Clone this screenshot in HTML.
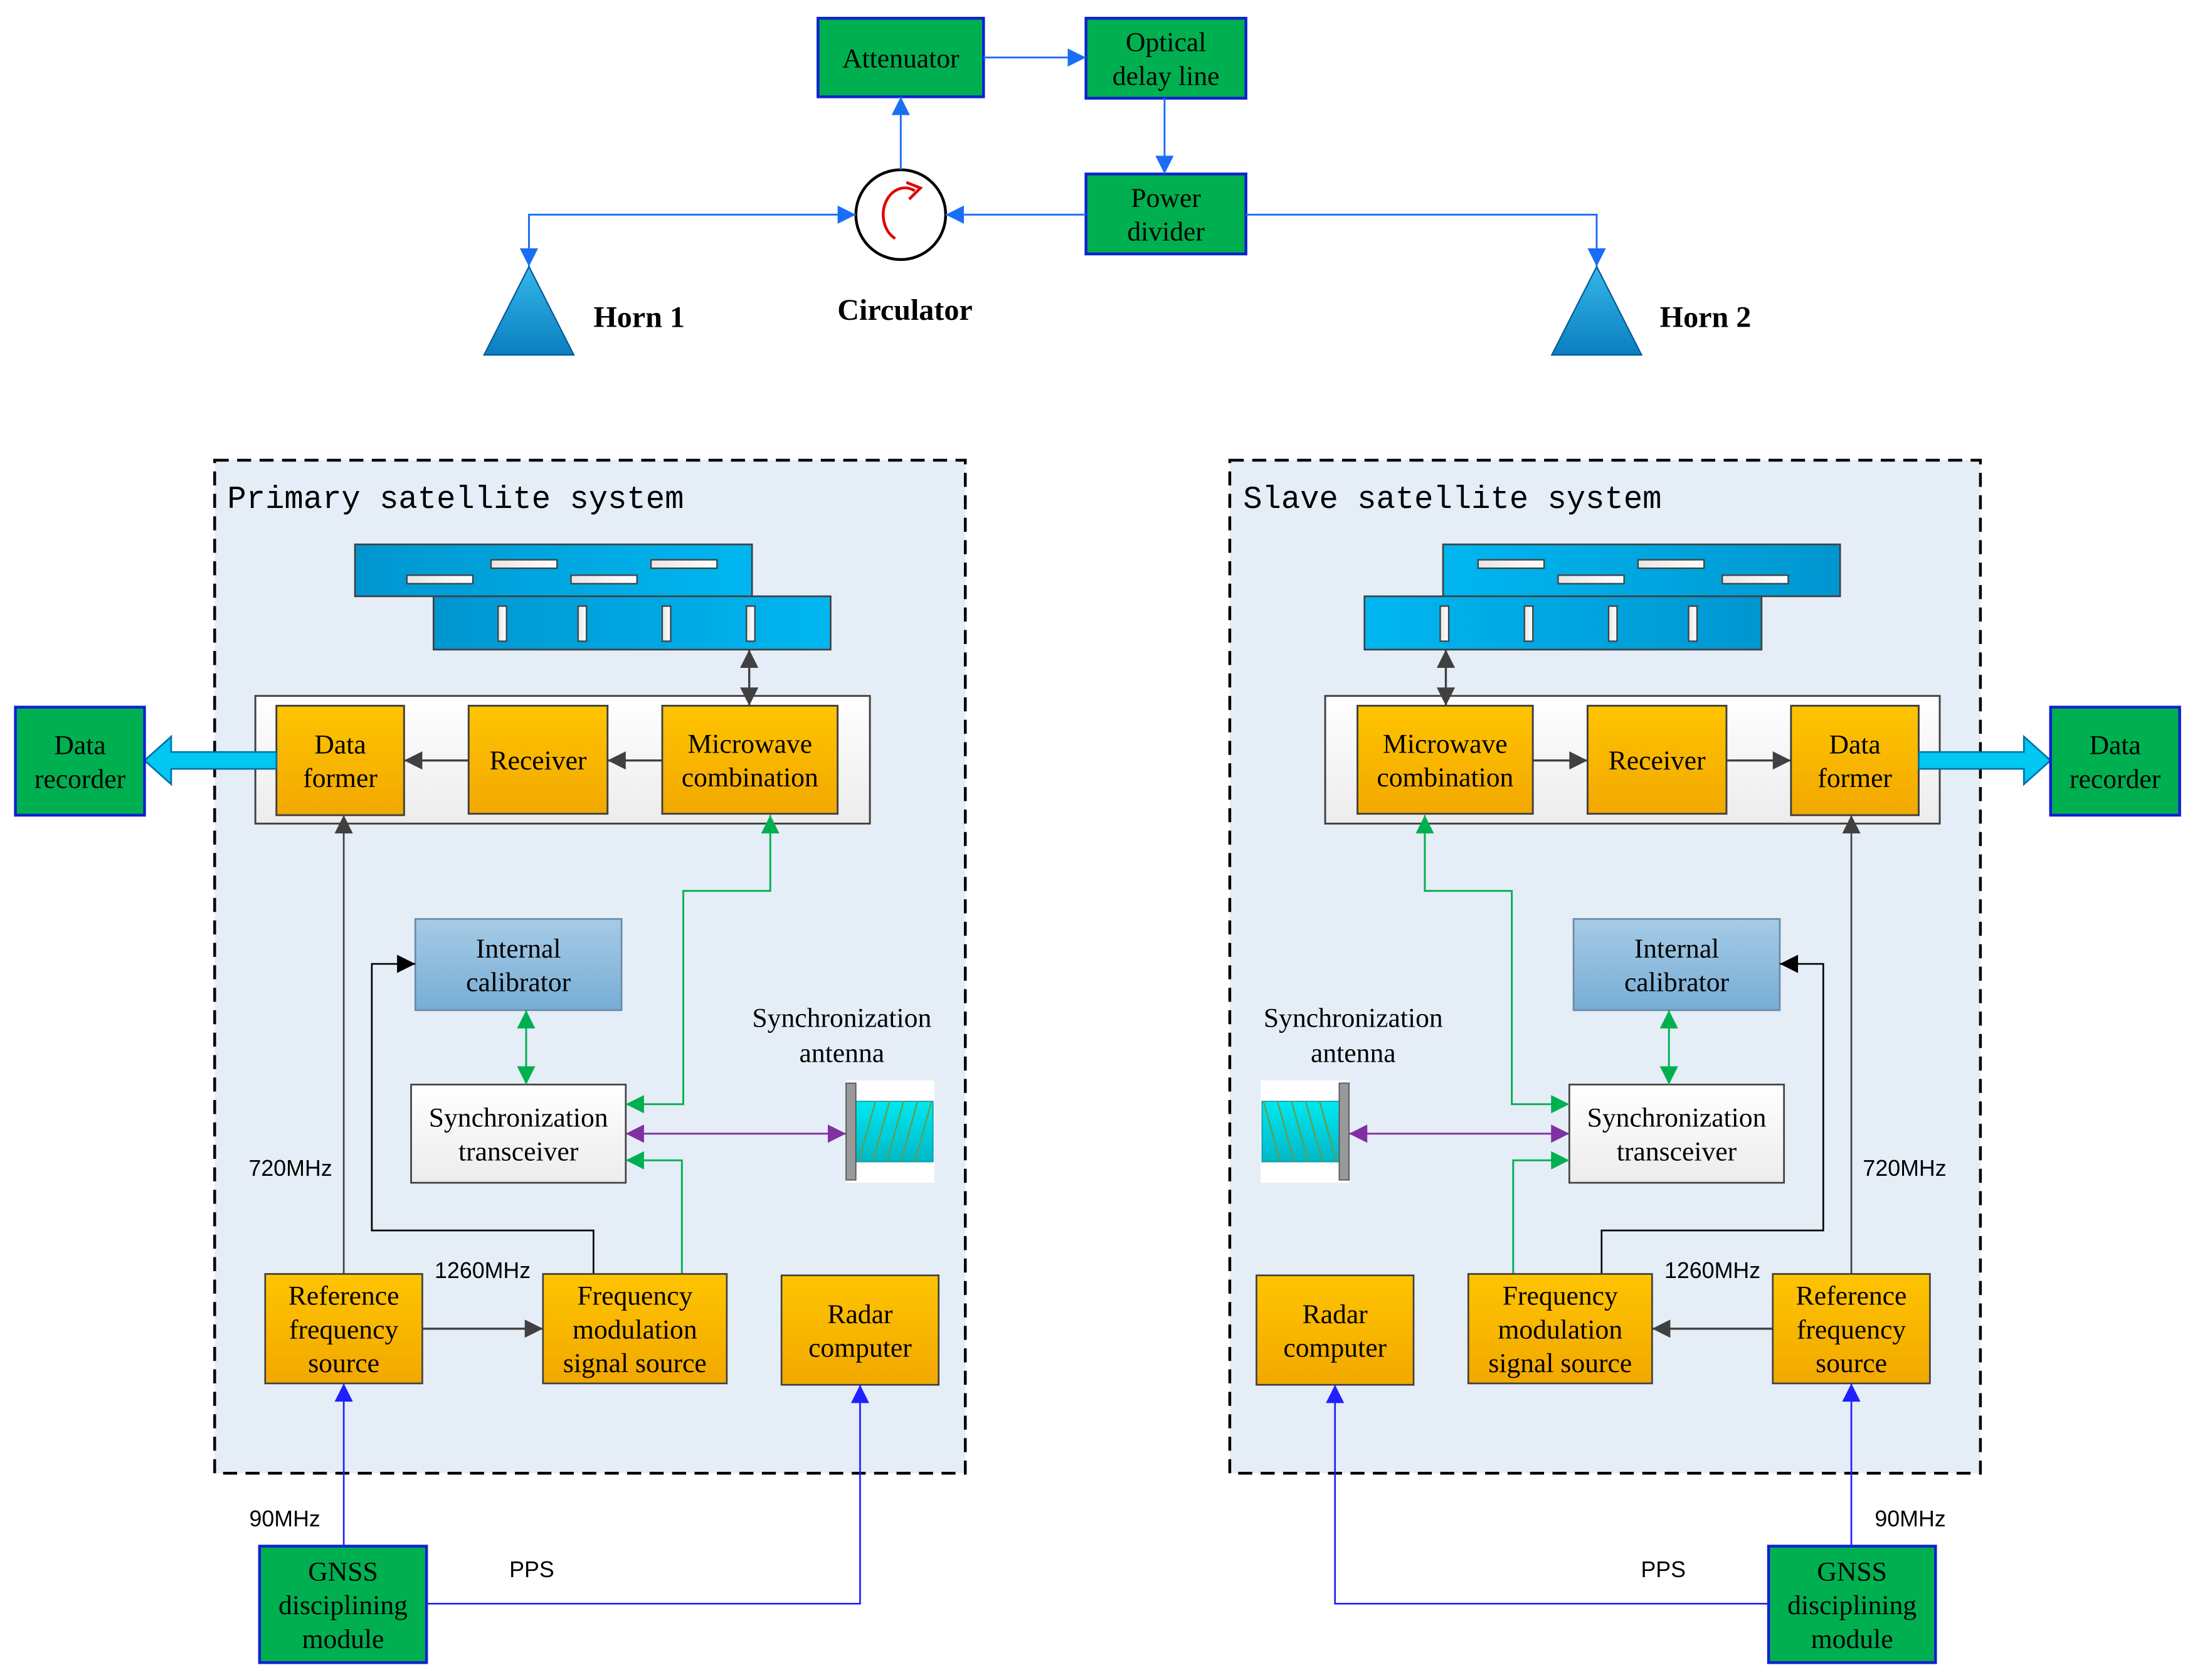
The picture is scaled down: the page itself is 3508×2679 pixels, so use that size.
<!DOCTYPE html>
<html><head><meta charset="utf-8"><style>html,body{margin:0;padding:0;background:#fff}svg{display:block}</style></head>
<body>
<svg id="s" xmlns="http://www.w3.org/2000/svg" width="3508" height="2679" viewBox="0 0 1568 1197.4" preserveAspectRatio="none">
<defs>
<linearGradient id="og" x1="0" y1="0" x2="0" y2="1"><stop offset="0" stop-color="#ffc400"/><stop offset="1" stop-color="#f2a800"/></linearGradient>
<linearGradient id="gg" x1="0" y1="0" x2="0" y2="1"><stop offset="0" stop-color="#ffffff"/><stop offset="1" stop-color="#ececec"/></linearGradient>
<linearGradient id="cg" x1="0" y1="0" x2="0" y2="1"><stop offset="0" stop-color="#a6cbe6"/><stop offset="1" stop-color="#77add5"/></linearGradient>
<linearGradient id="pg" x1="0" y1="0" x2="1" y2="0"><stop offset="0" stop-color="#0096d0"/><stop offset="1" stop-color="#00b6f0"/></linearGradient>
<linearGradient id="pgr" x1="1" y1="0" x2="0" y2="0"><stop offset="0" stop-color="#0096d0"/><stop offset="1" stop-color="#00b6f0"/></linearGradient>
<linearGradient id="hg" x1="0" y1="0" x2="0" y2="1"><stop offset="0" stop-color="#35b6ea"/><stop offset="1" stop-color="#0a7fc0"/></linearGradient>
<linearGradient id="sg" x1="0" y1="0" x2="1" y2="0"><stop offset="0" stop-color="#e6e6e6"/><stop offset="1" stop-color="#ffffff"/></linearGradient>
<linearGradient id="ag" x1="0" y1="0" x2="0" y2="1"><stop offset="0" stop-color="#00e8f0"/><stop offset="1" stop-color="#00b8c8"/></linearGradient>
</defs>
<g id="g"></g>
</svg>
<script>
const out=[];
const C={blue:'#1a6ef5',dark:'#404040',green:'#00b050',purple:'#8030a0',nb:'#2020ff',black:'#000'};
let defs='';
for(const k in C){defs+=`<marker id="m_${k}" viewBox="0 0 10 10" refX="10" refY="5" markerWidth="17" markerHeight="13" markerUnits="userSpaceOnUse" orient="auto-start-reverse"><path d="M0,0 L10,5 L0,10 z" fill="${C[k]}"/></marker>`;}
document.querySelector('defs').insertAdjacentHTML('beforeend',defs);
function X(x,m){return m?1564.5-x:x}
function rect(x,y,w,h,fill,stroke,sw,m,extra){if(m)x=1564.5-x-w;out.push(`<rect x="${x}" y="${y}" width="${w}" height="${h}" fill="${fill}" stroke="${stroke}" stroke-width="${sw}" ${extra||''}/>`)}
function pl(pts,col,s,e,m,sw){const p=pts.map(q=>X(q[0],m)+','+q[1]).join(' ');out.push(`<polyline points="${p}" fill="none" stroke="${C[col]}" stroke-width="${sw||1.3}" ${s?`marker-start="url(#m_${col})"`:''} ${e?`marker-end="url(#m_${col})"`:''}/>`)}
function tx(x,y,str,m,o){o=o||{};const fs=o.fs||19.5,ff=o.ff||'"Liberation Serif",serif',an=o.an||'middle';out.push(`<text x="${X(x,m)}" y="${y}" font-family='${ff}' font-size="${fs}" text-anchor="${an}" font-weight="${o.fw||'normal'}" fill="#000">${str}</text>`)}
function box(x,y,w,h,fill,stroke,sw,lines,m,fs){rect(x,y,w,h,fill,stroke,sw,m);const cx=m?1564.5-x-w/2:x+w/2;const lh=24;const y0=y+h/2-(lines.length-1)*lh/2+7;lines.forEach((l,i)=>tx(cx,y0+i*lh,l,false,{fs:fs||19.5}))}
const GR='#00b050',GS='#1020d0';
box(583,13,118,56,GR,GS,2,['Attenuator']);
box(774,13,114,57,GR,GS,2,['Optical','delay line']);
box(774,124,114,57,GR,GS,2,['Power','divider']);
out.push('<circle cx="642" cy="153" r="32" fill="#fff" stroke="#000" stroke-width="2"/>');
out.push('<path d="M638,170 A13,16 0 1 1 652,136" fill="none" stroke="#e00000" stroke-width="2"/><path d="M646,130 L656,134 L648,142" fill="none" stroke="#e00000" stroke-width="2"/>');
out.push('<polygon points="377,190 345,253 409,253" fill="url(#hg)" stroke="#0a5a9a" stroke-width="1"/>');
out.push('<polygon points="1138,190 1106,253 1170,253" fill="url(#hg)" stroke="#0a5a9a" stroke-width="1"/>');
tx(423,233,'Horn 1',false,{fw:'bold',an:'start',fs:21.5});
tx(1183,233,'Horn 2',false,{fw:'bold',an:'start',fs:21.5});
tx(645,228,'Circulator',false,{fw:'bold',fs:21.5});
pl([[701,41],[774,41]],'blue',0,1);
pl([[830,70],[830,124]],'blue',0,1);
pl([[774,153],[674,153]],'blue',0,1);
pl([[642,121],[642,69]],'blue',0,1);
pl([[377,190],[377,153],[610,153]],'blue',1,1);
pl([[888,153],[1138,153],[1138,190]],'blue',0,1);
function side(m){
  rect(153,328,535,722,'#e5edf7','#000',2,m,'stroke-dasharray="10,6"');
  rect(253,388,283,37,m?'url(#pgr)':'url(#pg)','#404040',1.2,m);
  rect(309,425,283,38,m?'url(#pgr)':'url(#pg)','#404040',1.2,m);
  [[290,410],[350,399],[407,410],[464,399]].forEach(p=>rect(p[0],p[1],47,6,'url(#sg)','#404040',1,m));
  [355,412,472,532].forEach(x=>rect(x,432,6,25,'url(#sg)','#404040',1,m));
  rect(182,496,438,91,'url(#gg)','#404040',1.3,m);
  box(197,503,91,78,'url(#og)','#404040',1.3,['Data','former'],m);
  box(334,503,99,77,'url(#og)','#404040',1.3,['Receiver'],m);
  box(472,503,125,77,'url(#og)','#404040',1.3,['Microwave','combination'],m);
  pl([[472,542],[433,542]],'dark',0,1,m,1.5);
  pl([[334,542],[288,542]],'dark',0,1,m,1.5);
  pl([[534,463],[534,503]],'dark',1,1,m,1.5);
  const ap=[[197,536],[122,536],[122,525],[103,542],[122,559],[122,548],[197,548]].map(q=>X(q[0],m)+','+q[1]).join(' ');
  out.push(`<polygon points="${ap}" fill="#00c8f2" stroke="#0070a8" stroke-width="1.2"/>`);
  box(11,504,92,77,GR,GS,2,['Data','recorder'],m);
  pl([[245,908],[245,581]],'dark',0,1,m,1.2);
  box(296,655,147,65,'url(#cg)','#6a8aa8',1.2,['Internal','calibrator'],m);
  box(293,773,153,70,'url(#gg)','#404040',1.2,['Synchronization','transceiver'],m);
  pl([[375,720],[375,773]],'green',1,1,m);
  pl([[549,581],[549,635],[487,635],[487,787],[446,787]],'green',1,1,m);
  pl([[486,908],[486,827],[446,827]],'green',0,1,m);
  pl([[446,808],[603,808]],'purple',1,1,m);
  rect(603,770,63,73,'#fff','none',0,m);
  rect(609,785,56,43,'url(#ag)','#0a9aa8',0.8,m);
  for(let i=0;i<5;i++){const a=X(612+i*10,m),b=X(624+i*10,m);out.push(`<line x1="${a}" y1="828" x2="${b}" y2="785" stroke="#6a9a40" stroke-width="1"/>`)}
  rect(603,772,7,69,'#999','#555',0.8,m);
  tx(600,732,'Synchronization',m);tx(600,757,'antenna',m);
  pl([[423,908],[423,877],[265,877],[265,687],[296,687]],'black',0,1,m,1.2);
  box(189,908,112,78,'url(#og)','#404040',1.2,['Reference','frequency','source'],m);
  box(387,908,131,78,'url(#og)','#404040',1.2,['Frequency','modulation','signal source'],m);
  box(557,909,112,78,'url(#og)','#404040',1.2,['Radar','computer'],m);
  pl([[301,947],[387,947]],'dark',0,1,m,1.5);
  const sf={ff:'"Liberation Sans",sans-serif',fs:16};
  tx(207,838,'720MHz',m,sf);tx(344,911,'1260MHz',m,sf);tx(203,1088,'90MHz',m,sf);tx(379,1124,'PPS',m,sf);
  box(185,1102,119,83,GR,GS,2,['GNSS','disciplining','module'],m);
  pl([[245,1102],[245,986]],'nb',0,1,m,1.2);
  pl([[304,1143],[613,1143],[613,987]],'nb',0,1,m,1.2);
}
side(false);side(true);
tx(162,362,'Primary satellite system',false,{ff:'"Liberation Mono",monospace',fs:22.6,an:'start'});
tx(886,362,'Slave satellite system',false,{ff:'"Liberation Mono",monospace',fs:22.6,an:'start'});
document.getElementById('g').innerHTML=out.join('');
</script>
</body></html>
